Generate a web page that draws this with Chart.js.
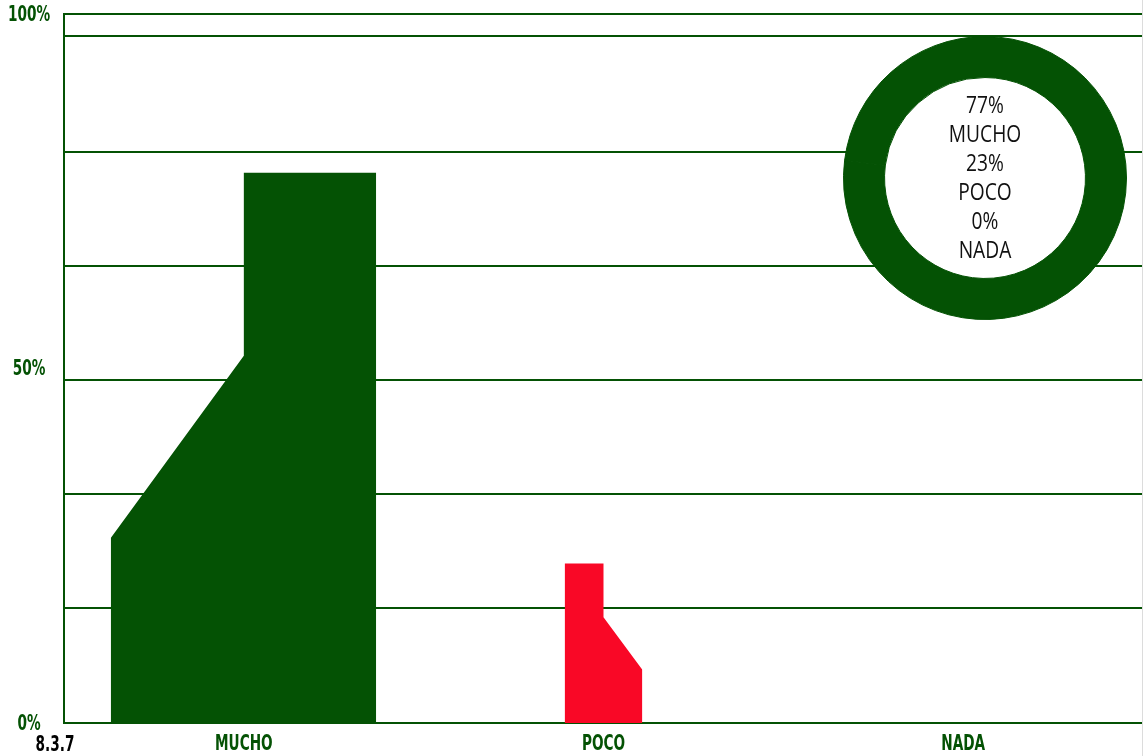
<!DOCTYPE html>
<html>
<head>
<meta charset="utf-8">
<script src="https://cdn.jsdelivr.net/npm/chart.js@4/dist/chart.umd.min.js"></script>
<style>
html, body { margin: 0; padding: 0; background: #fff; }
#wrap { position: relative; width: 1143px; height: 756px; overflow: hidden; }
#main { position: absolute; left: 0; top: 0; }
#ring { position: absolute; left: 843px; top: 36px; }
#edge { position: absolute; left: 1142px; top: 0; width: 1px; height: 756px; background: #dcdcdc; }
</style>
</head>
<body>
<div id="wrap">
  <canvas id="main" width="1143" height="756"></canvas>
  <canvas id="ring" width="284" height="284"></canvas>
  <div id="edge"></div>
</div>
<script>
var categories = ['MUCHO', 'POCO', 'NADA'];
var percentages = [77, 23, 0];
var yLabelValues = [0, 50, 100];
var gridValues = [0, 16.2, 32.3, 48.4, 64.5, 80.5, 96.9, 100];
var cornerLabel = '8.3.7';
// outline of each shape: x offset from category centre, height in %
var muchoX = [-0.37, -0.37, 0, 0, 0.368, 0.368];
var muchoY = [0, 26.1, 51.8, 77.6, 77.6, 0];
var pocoX = [-0.108, -0.108, 0, 0, 0.108, 0.108];
var pocoY = [0, 22.5, 22.5, 14.9, 7.5, 0];

var green = '#045204';
var red = '#f90826';

var toPoints = (xs, ys, centre) => xs.map((x, i) => ({ x: centre + x, y: ys[i] }));

var yTicks = gridValues.concat(yLabelValues.filter(v => gridValues.indexOf(v) < 0)).sort((a, b) => a - b);

// squeezed text, the labels in the picture use a very narrow heavy face
var drawSquashed = (ctx, text, x, y, sx) => {
    ctx.save();
    ctx.translate(x, y);
    ctx.scale(sx, 1);
    ctx.fillText(text, 0, 0);
    ctx.restore();
};

var axisLabels = {
    id: 'axisLabels',
    afterDraw: (chart) => {
        var ctx = chart.ctx;
        var xs = chart.scales.x, ys = chart.scales.y;
        ctx.save();
        ctx.font = 'bold 22px "DejaVu Sans", sans-serif';
        ctx.textAlign = 'center';
        ctx.textBaseline = 'middle';
        ctx.fillStyle = green;
        yLabelValues.forEach(v => drawSquashed(ctx, v + '%', ys.left + 29, ys.getPixelForValue(v) + 1, 0.62));
        categories.forEach((c, i) => drawSquashed(ctx, c, xs.getPixelForValue(i), xs.top + 21, 0.62));
        ctx.fillStyle = '#000';
        drawSquashed(ctx, cornerLabel, ys.left + 55, xs.top + 22, 0.62);
        ctx.restore();
    }
};

new Chart(document.getElementById('main'), {
    type: 'line',
    data: {
        datasets: [
            { data: toPoints(muchoX, muchoY, 0), backgroundColor: green, borderWidth: 0, pointRadius: 0, fill: 'origin' },
            { data: toPoints(pocoX, pocoY, 1), backgroundColor: red, borderWidth: 0, pointRadius: 0, fill: 'origin' }
        ]
    },
    options: {
        responsive: false,
        animation: false,
        layout: { padding: { top: 14, right: 0, left: 0, bottom: 0 } },
        plugins: { legend: { display: false }, tooltip: { enabled: false } },
        scales: {
            x: {
                type: 'linear', min: -0.5, max: 2.5,
                afterBuildTicks: (s) => { s.ticks = categories.map((c, i) => ({ value: i })); },
                afterFit: (s) => { s.height = 33; },
                grid: { display: false, drawTicks: false },
                border: { color: green, width: 2 },
                ticks: { display: false }
            },
            y: {
                min: 0, max: 100,
                afterBuildTicks: (s) => { s.ticks = yTicks.map(v => ({ value: v })); },
                afterFit: (s) => { s.width = 64; },
                grid: {
                    color: (ctx) => gridValues.indexOf(ctx.tick.value) >= 0 ? green : 'rgba(0,0,0,0)',
                    lineWidth: 2, drawTicks: false
                },
                border: { color: green, width: 2 },
                ticks: { display: false }
            }
        }
    },
    plugins: [axisLabels]
});

var ringCentre = {
    id: 'ringCentre',
    beforeDatasetsDraw: (chart) => {
        var arc = chart.getDatasetMeta(0).data[0];
        var ctx = chart.ctx;
        ctx.save();
        ctx.beginPath();
        ctx.arc(arc.x, arc.y, arc.innerRadius, 0, Math.PI * 2);
        ctx.fillStyle = '#fff';
        ctx.fill();
        ctx.restore();
    },
    afterDraw: (chart) => {
        var arc = chart.getDatasetMeta(0).data[0];
        var ctx = chart.ctx;
        var lines = [];
        for (var i = 0; i < categories.length; i++) {
            lines.push(percentages[i] + '%');
            lines.push(categories[i]);
        }
        var lh = 29;
        ctx.save();
        ctx.fillStyle = '#111';
        ctx.font = '24px "Open Sans", sans-serif';
        ctx.textAlign = 'center';
        ctx.textBaseline = 'middle';
        for (var j = 0; j < lines.length; j++) {
            drawSquashed(ctx, lines[j], arc.x, arc.y + 1 + (j - (lines.length - 1) / 2) * lh, 0.8);
        }
        ctx.restore();
    }
};

new Chart(document.getElementById('ring'), {
    type: 'doughnut',
    data: {
        labels: categories,
        datasets: [{ data: percentages, backgroundColor: [green, green, green], borderColor: green, borderWidth: 1 }]
    },
    options: {
        responsive: false,
        animation: false,
        cutout: '71%',
        plugins: { legend: { display: false }, tooltip: { enabled: false } }
    },
    plugins: [ringCentre]
});
</script>
</body>
</html>
